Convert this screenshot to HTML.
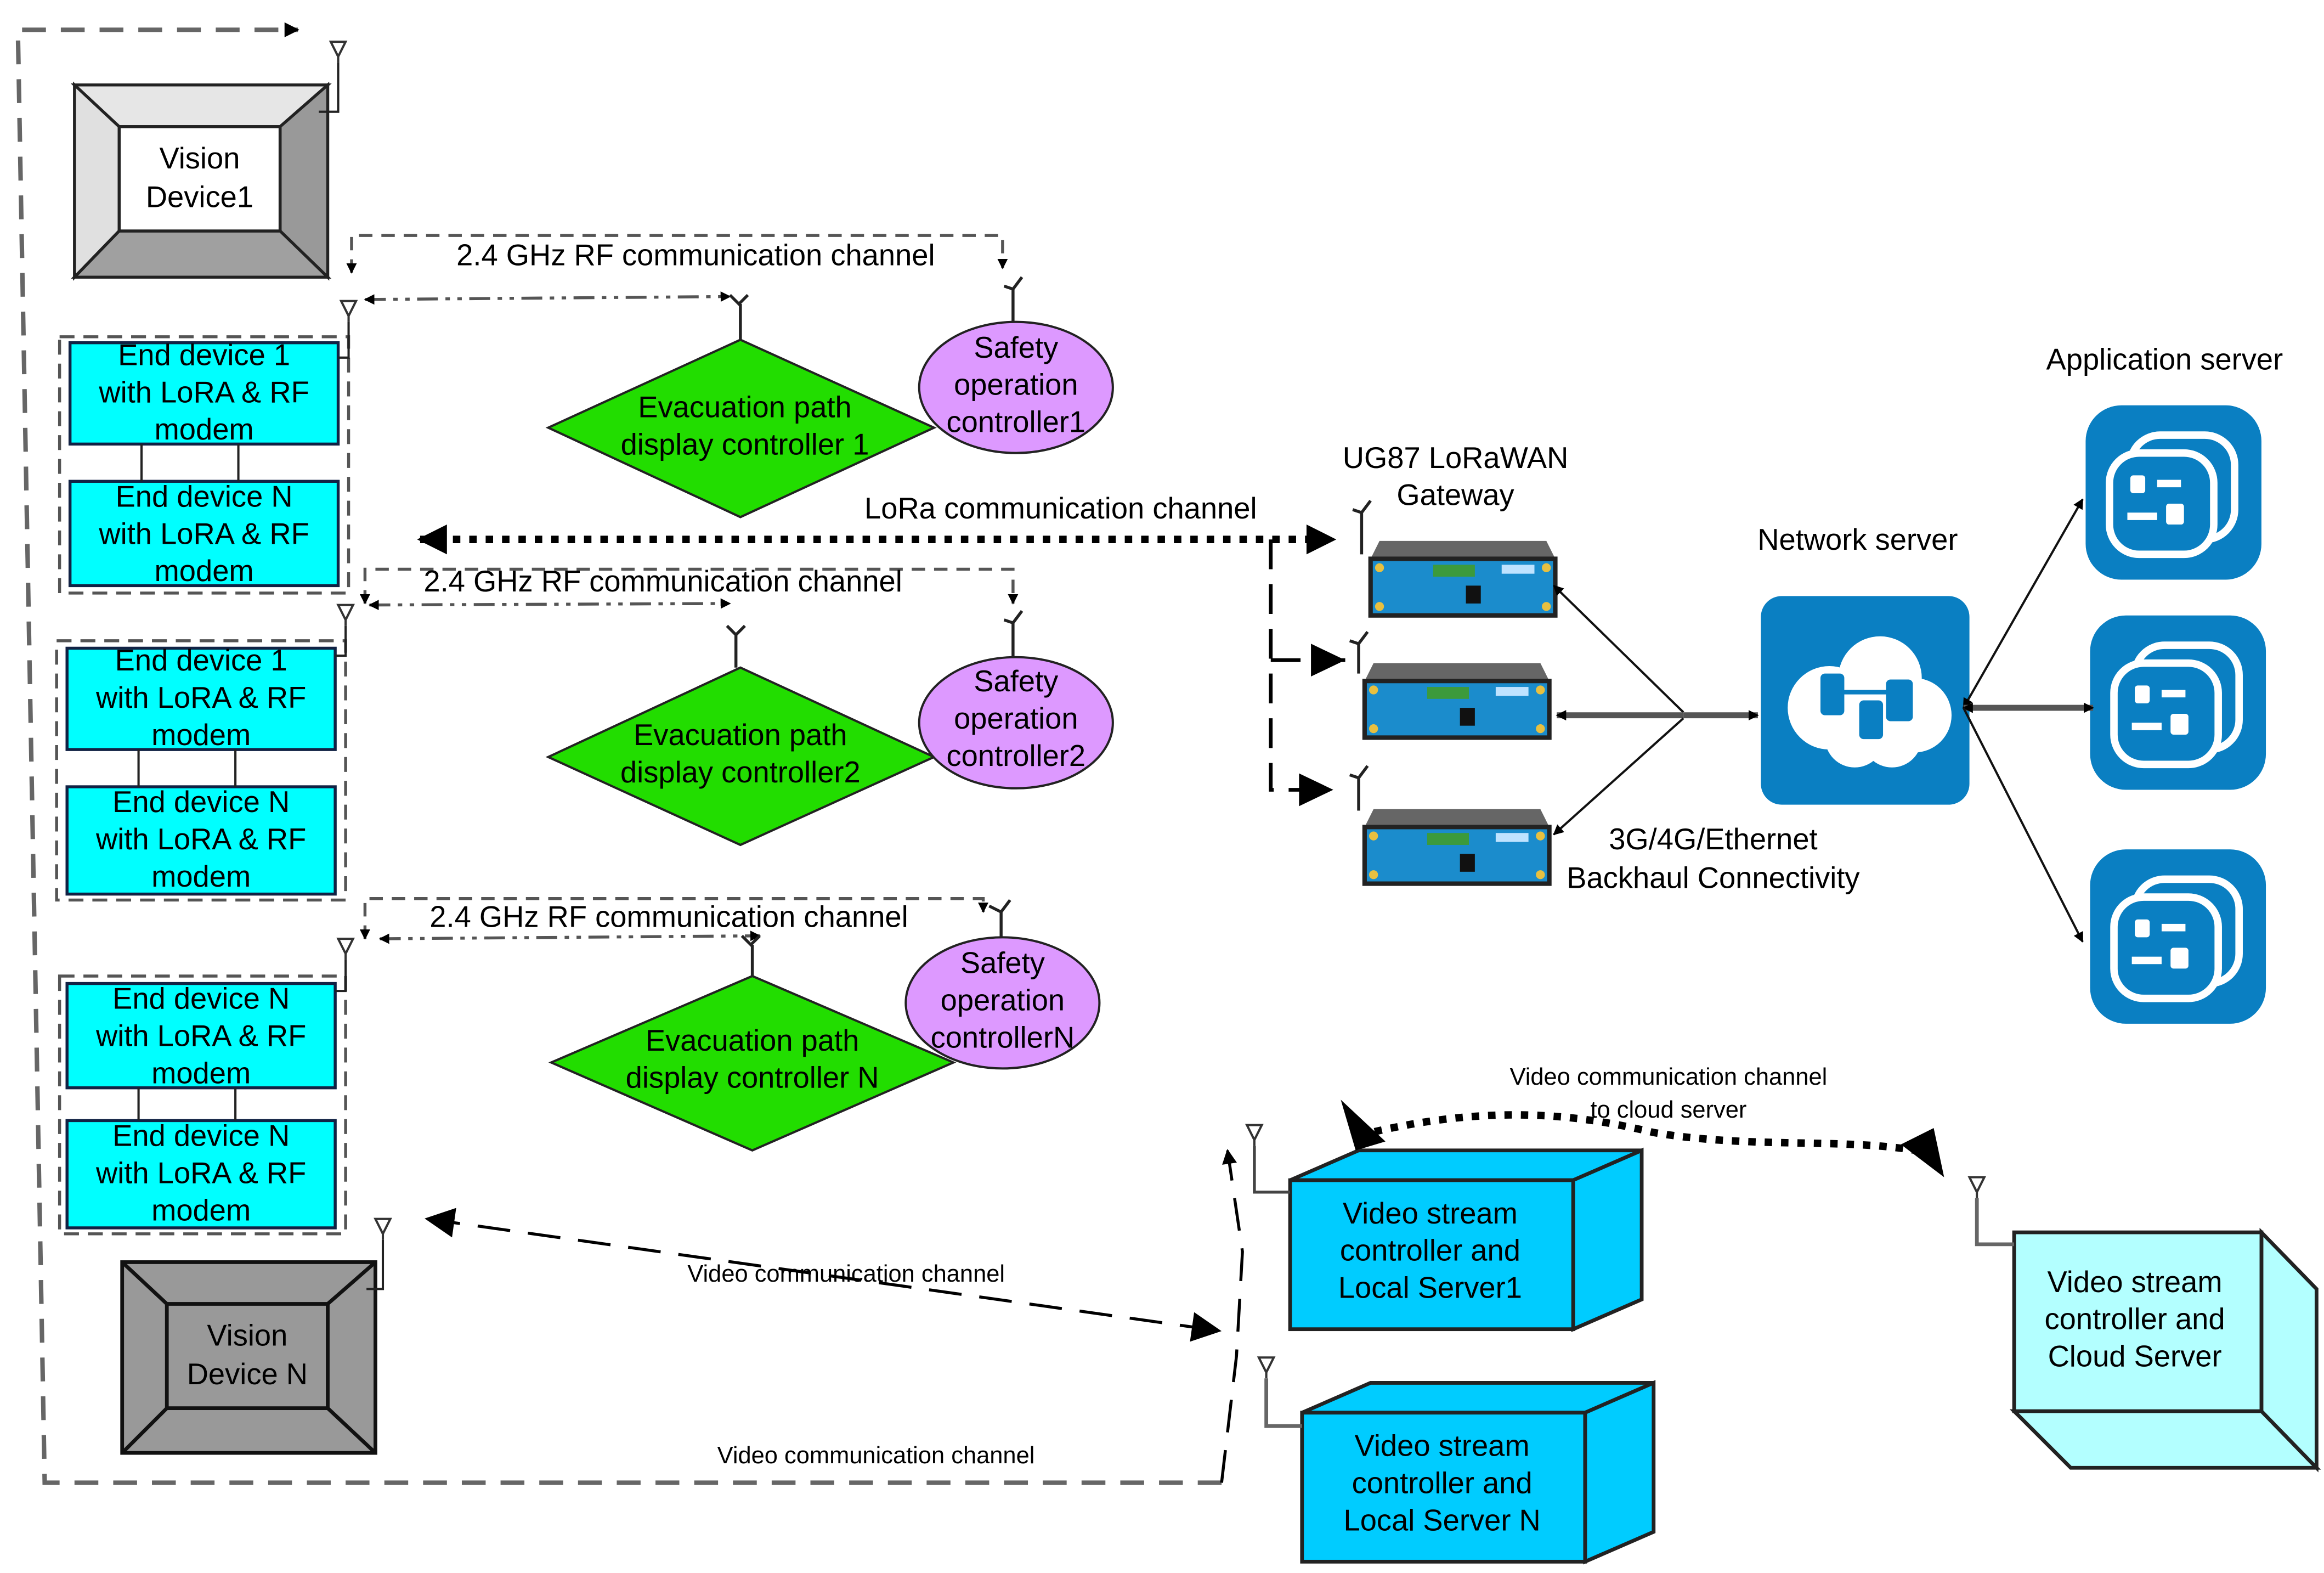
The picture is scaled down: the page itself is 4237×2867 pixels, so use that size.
<!DOCTYPE html>
<html><head><meta charset="utf-8"><style>
html,body{margin:0;padding:0;background:#fff;}
svg{display:block;}
text{font-family:"Liberation Sans",sans-serif;fill:#000;}
</style></head><body>
<svg width="4237" height="2867" viewBox="0 0 1560 1055.6" preserveAspectRatio="none" xmlns="http://www.w3.org/2000/svg">
<defs>
<marker id="ar" viewBox="0 0 10 10" refX="9" refY="5" markerWidth="7" markerHeight="7" orient="auto-start-reverse" markerUnits="userSpaceOnUse"><path d="M0,0 L10,5 L0,10 z" fill="#000"/></marker>
<marker id="arS" viewBox="0 0 10 10" refX="9" refY="5" markerWidth="12" markerHeight="10" orient="auto-start-reverse" markerUnits="userSpaceOnUse"><path d="M0,0 L10,5 L0,10 z" fill="#000"/></marker>
<marker id="arB" viewBox="0 0 10 10" refX="9" refY="5" markerWidth="24" markerHeight="20" orient="auto-start-reverse" markerUnits="userSpaceOnUse"><path d="M0,0 L10,5 L0,10 z" fill="#000"/></marker>
<g id="ant"><path d="M-5,0 H5 L0,10 z M0,10 V14" fill="#fff" stroke="#333" stroke-width="1.5"/></g>
<g id="gw">
<path d="M4,0 H116 L122,12 H-2 z" fill="#666"/>
<rect x="-2" y="12" width="124" height="38" fill="#1b8ccc" stroke="#222" stroke-width="3"/>
<rect x="40" y="16" width="28" height="8" fill="#3c9a3c"/>
<rect x="62" y="30" width="10" height="12" fill="#111"/>
<circle cx="4" cy="18" r="3" fill="#e8c040"/><circle cx="4" cy="44" r="3" fill="#e8c040"/>
<circle cx="116" cy="18" r="3" fill="#e8c040"/><circle cx="116" cy="44" r="3" fill="#e8c040"/>
<rect x="86" y="16" width="22" height="6" fill="#bfe3ff"/>
</g>
<g id="app">
<rect x="0" y="0" width="118" height="117" rx="24" fill="#0a7fc2"/>
<rect x="30" y="20" width="70" height="70" rx="20" fill="none" stroke="#fff" stroke-width="5"/>
<rect x="16" y="32" width="70" height="68" rx="20" fill="#0a7fc2" stroke="#fff" stroke-width="5"/>
<rect x="30" y="47" width="10" height="12" rx="2" fill="#fff"/><rect x="48" y="50" width="16" height="5" fill="#fff"/>
<rect x="28" y="72" width="20" height="5" fill="#fff"/><rect x="54" y="66" width="12" height="14" rx="2" fill="#fff"/>
</g>
</defs>

<path d="M820,995 H30 L12,20 H200" fill="none" stroke="#666" stroke-width="3" stroke-dasharray="16,10" marker-end="url(#arS)"/>

<g stroke="#222" stroke-width="2">
<polygon points="50,57 220,57 188,85 80,85" fill="#e6e6e6"/>
<polygon points="50,57 80,85 80,155 50,186" fill="#e0e0e0"/>
<polygon points="220,57 220,186 188,155 188,85" fill="#999"/>
<polygon points="50,186 80,155 188,155 220,186" fill="#a0a0a0"/>
<rect x="80" y="85" width="108" height="70" fill="#fff"/>
</g>
<text x="134" y="113" font-size="20" text-anchor="middle">Vision</text>
<text x="134" y="139" font-size="20" text-anchor="middle">Device1</text>
<use href="#ant" x="227" y="28"/><path d="M227,42 V75 H214" stroke="#222" stroke-width="1.5" fill="none"/>

<g stroke="#111" stroke-width="2.5">
<rect x="82" y="847" width="170" height="128" fill="#999"/>
<path d="M82,847 L112,875 M252,847 L220,875 M82,975 L112,945 M252,975 L220,945" fill="none"/>
<rect x="112" y="875" width="108" height="70" fill="#999"/>
</g>
<text x="166" y="903" font-size="20" text-anchor="middle">Vision</text>
<text x="166" y="929" font-size="20" text-anchor="middle">Device N</text>
<use href="#ant" x="257" y="818"/><path d="M257,832 V865 H246" stroke="#222" stroke-width="1.5" fill="none"/>

<g font-size="20" text-anchor="middle">
<rect x="40" y="226" width="194" height="172" fill="none" stroke="#555" stroke-width="2" stroke-dasharray="10,6"/>
<rect x="47" y="230" width="180" height="68" fill="#00ffff" stroke="#124" stroke-width="2"/>
<rect x="47" y="323" width="180" height="70" fill="#00ffff" stroke="#124" stroke-width="2"/>
<path d="M95,298 V323 M160,298 V323" stroke="#222" stroke-width="1.5"/>
<text x="137" y="245">End device 1</text><text x="137" y="270">with LoRA &amp; RF</text><text x="137" y="295">modem</text>
<text x="137" y="340">End device N</text><text x="137" y="365">with LoRA &amp; RF</text><text x="137" y="390">modem</text>
<use href="#ant" x="234" y="202"/><path d="M234,216 V240 H227" stroke="#222" stroke-width="1.5" fill="none"/>

<rect x="38" y="430" width="194" height="174" fill="none" stroke="#555" stroke-width="2" stroke-dasharray="10,6"/>
<rect x="45" y="435" width="180" height="68" fill="#00ffff" stroke="#124" stroke-width="2"/>
<rect x="45" y="528" width="180" height="72" fill="#00ffff" stroke="#124" stroke-width="2"/>
<path d="M93,503 V528 M158,503 V528" stroke="#222" stroke-width="1.5"/>
<text x="135" y="450">End device 1</text><text x="135" y="475">with LoRA &amp; RF</text><text x="135" y="500">modem</text>
<text x="135" y="545">End device N</text><text x="135" y="570">with LoRA &amp; RF</text><text x="135" y="595">modem</text>
<use href="#ant" x="232" y="406"/><path d="M232,420 V440 H225" stroke="#222" stroke-width="1.5" fill="none"/>

<rect x="40" y="655" width="192" height="173" fill="none" stroke="#555" stroke-width="2" stroke-dasharray="10,6"/>
<rect x="45" y="660" width="180" height="70" fill="#00ffff" stroke="#124" stroke-width="2"/>
<rect x="45" y="752" width="180" height="72" fill="#00ffff" stroke="#124" stroke-width="2"/>
<path d="M93,730 V752 M158,730 V752" stroke="#222" stroke-width="1.5"/>
<text x="135" y="677">End device N</text><text x="135" y="702">with LoRA &amp; RF</text><text x="135" y="727">modem</text>
<text x="135" y="769">End device N</text><text x="135" y="794">with LoRA &amp; RF</text><text x="135" y="819">modem</text>
<use href="#ant" x="232" y="630"/><path d="M232,644 V665 H225" stroke="#222" stroke-width="1.5" fill="none"/>
</g>

<g fill="none" stroke-width="2">
<path d="M236,183 V158 H673 V180" stroke="#555" stroke-dasharray="9,6" marker-start="url(#ar)" marker-end="url(#ar)"/>
<path d="M245,201 L490,199" stroke="#555" stroke-dasharray="14,5,3,5,3,5" marker-start="url(#ar)" marker-end="url(#ar)"/>
<path d="M245,405 V382 H680 V405" stroke="#555" stroke-dasharray="9,6" marker-start="url(#ar)" marker-end="url(#ar)"/>
<path d="M248,406 L490,405" stroke="#555" stroke-dasharray="14,5,3,5,3,5" marker-start="url(#ar)" marker-end="url(#ar)"/>
<path d="M245,630 V603 H660 V612" stroke="#555" stroke-dasharray="9,6" marker-start="url(#ar)" marker-end="url(#ar)"/>
<path d="M255,630 L510,628" stroke="#555" stroke-dasharray="14,5,3,5,3,5" marker-start="url(#ar)" marker-end="url(#ar)"/>
</g>
<g font-size="20" text-anchor="middle">
<text x="467" y="178">2.4 GHz RF communication channel</text>
<text x="445" y="397">2.4 GHz RF communication channel</text>
<text x="449" y="622">2.4 GHz RF communication channel</text>
</g>
<g stroke="#222" stroke-width="2" fill="none">
<path d="M490,198 L496,204 L502,198 M497,204 V228"/>
<path d="M674,192 L680,194 L686,186 M680,194 V218"/>
<path d="M488,420 L494,426 L500,420 M494,426 V448"/>
<path d="M674,416 L680,418 L686,410 M680,418 V442"/>
<path d="M498,628 L504,634 L510,628 M505,634 V655"/>
<path d="M664,608 L672,612 L678,604 M672,612 V632"/>
</g>

<g stroke="#222" stroke-width="1.5" fill="#22dd00">
<polygon points="368,287 497,228 627,287 497,347"/>
<polygon points="368,508 497,448 627,508 497,567"/>
<polygon points="370,713 505,655 640,713 505,772"/>
</g>
<g stroke="#222" stroke-width="1.5" fill="#dd99ff">
<ellipse cx="682" cy="260" rx="65" ry="44"/>
<ellipse cx="682" cy="485" rx="65" ry="44"/>
<ellipse cx="673" cy="673" rx="65" ry="44"/>
</g>
<g font-size="20" text-anchor="middle">
<text x="500" y="280">Evacuation path</text><text x="500" y="305">display controller 1</text>
<text x="497" y="500">Evacuation path</text><text x="497" y="525">display controller2</text>
<text x="505" y="705">Evacuation path</text><text x="505" y="730">display controller N</text>
<text x="682" y="240">Safety</text><text x="682" y="265">operation</text><text x="682" y="290">controller1</text>
<text x="682" y="464">Safety</text><text x="682" y="489">operation</text><text x="682" y="514">controller2</text>
<text x="673" y="653">Safety</text><text x="673" y="678">operation</text><text x="673" y="703">controllerN</text>
</g>

<path d="M282,362 H895" stroke="#000" stroke-width="5" stroke-dasharray="5,6" marker-start="url(#arB)" marker-end="url(#arB)" fill="none"/>
<text x="712" y="348" font-size="20" text-anchor="middle">LoRa communication channel</text>
<path d="M853,362 V530 H893 M853,443 H903" stroke="#000" stroke-width="2.5" stroke-dasharray="20,10" fill="none"/>
<path d="M880,432 L903,443 L880,454 z M872,519 L895,530 L872,541 z" fill="#000"/>
<g stroke="#222" stroke-width="2" fill="none">
<path d="M908,342 L914,344 L920,336 M914,344 V372"/>
<path d="M906,430 L912,432 L918,424 M912,432 V452"/>
<path d="M906,520 L912,522 L918,514 M912,522 V544"/>
</g>
<text x="977" y="314" font-size="20" text-anchor="middle">UG87 LoRaWAN</text>
<text x="977" y="339" font-size="20" text-anchor="middle">Gateway</text>
<use href="#gw" x="922" y="363"/>
<use href="#gw" x="918" y="445"/>
<use href="#gw" x="918" y="543"/>

<g fill="none" stroke="#111" stroke-width="1.5">
<path d="M1130,478 L1043,393" marker-end="url(#ar)"/>
<path d="M1130,480 L1045,480" stroke="#555" stroke-width="4" marker-end="url(#ar)"/>
<path d="M1130,482 L1043,560" marker-end="url(#ar)"/>
<path d="M1130,480 L1180,480" stroke="#555" stroke-width="4" marker-end="url(#ar)"/>
</g>
<text x="1247" y="369" font-size="20" text-anchor="middle">Network server</text>
<rect x="1182" y="400" width="140" height="140" rx="14" fill="#0a7fc2"/>
<g fill="#fff">
<circle cx="1228" cy="475" r="28"/><circle cx="1262" cy="455" r="28"/><circle cx="1285" cy="480" r="25"/><circle cx="1245" cy="495" r="20"/><circle cx="1270" cy="495" r="20"/>
</g>
<g fill="#0a7fc2">
<rect x="1222" y="452" width="16" height="28" rx="3"/><rect x="1266" y="456" width="18" height="28" rx="3"/><rect x="1248" y="470" width="16" height="26" rx="3"/>
<rect x="1236" y="463" width="32" height="3"/>
</g>
<text x="1150" y="570" font-size="20" text-anchor="middle">3G/4G/Ethernet</text>
<text x="1150" y="596" font-size="20" text-anchor="middle">Backhaul Connectivity</text>

<text x="1453" y="248" font-size="20" text-anchor="middle">Application server</text>
<use href="#app" x="1400" y="272"/>
<use href="#app" x="1403" y="413"/>
<use href="#app" x="1403" y="570"/>
<g fill="none" stroke="#111" stroke-width="1.5">
<path d="M1318,475 L1398,335" marker-start="url(#ar)" marker-end="url(#ar)"/>
<path d="M1318,475 L1405,475" stroke="#555" stroke-width="4" marker-start="url(#ar)" marker-end="url(#ar)"/>
<path d="M1318,475 L1398,632" marker-end="url(#ar)"/>
</g>

<g stroke="#222" stroke-width="2.5">
<polygon points="866,792 912,772 1102,772 1056,792" fill="#00ccff"/>
<polygon points="1056,792 1102,772 1102,872 1056,892" fill="#00ccff"/>
<rect x="866" y="792" width="190" height="100" fill="#00ccff"/>
<polygon points="874,948 920,928 1110,928 1064,948" fill="#00ccff"/>
<polygon points="1064,948 1110,928 1110,1028 1064,1048" fill="#00ccff"/>
<rect x="874" y="948" width="190" height="100" fill="#00ccff"/>
<polygon points="1352,947 1390,985 1555,985 1518,947" fill="#b3ffff"/>
<polygon points="1518,827 1555,865 1555,985 1518,947" fill="#b3ffff"/>
<rect x="1352" y="827" width="166" height="120" fill="#b3ffff"/>
</g>
<g font-size="20" text-anchor="middle">
<text x="960" y="821">Video stream</text><text x="960" y="846">controller and</text><text x="960" y="871">Local Server1</text>
<text x="968" y="977">Video stream</text><text x="968" y="1002">controller and</text><text x="968" y="1027">Local Server N</text>
<text x="1433" y="867">Video stream</text><text x="1433" y="892">controller and</text><text x="1433" y="917">Cloud Server</text>
</g>
<use href="#ant" x="842" y="755"/><path d="M842,769 V800 H866" stroke="#444" stroke-width="2" fill="none"/>
<use href="#ant" x="850" y="911"/><path d="M850,925 V957 H874" stroke="#666" stroke-width="2.5" fill="none"/>
<use href="#ant" x="1327" y="790"/><path d="M1327,804 V835 H1352" stroke="#666" stroke-width="2.5" fill="none"/>

<path d="M912,762 C1000,740 1060,748 1110,760 C1180,772 1250,762 1300,775" fill="none" stroke="#000" stroke-width="5" stroke-dasharray="5,6"/>
<polygon points="900,738 930,766 910,772" fill="#000"/>
<polygon points="1298,757 1305,790 1276,768" fill="#000"/>
<text x="1120" y="728" font-size="16" text-anchor="middle">Video communication channel</text>
<text x="1120" y="750" font-size="16" text-anchor="middle">to cloud server</text>

<path d="M287,818 L818,893" fill="none" stroke="#000" stroke-width="2" stroke-dasharray="22,12" marker-start="url(#arB)" marker-end="url(#arB)"/>
<text x="568" y="860" font-size="16" text-anchor="middle">Video communication channel</text>
<path d="M820,995 L830,910 L834,840 L824,772" fill="none" stroke="#000" stroke-width="2" stroke-dasharray="22,12" marker-end="url(#arS)"/>
<text x="588" y="982" font-size="16" text-anchor="middle">Video communication channel</text>
</svg>
</body></html>
